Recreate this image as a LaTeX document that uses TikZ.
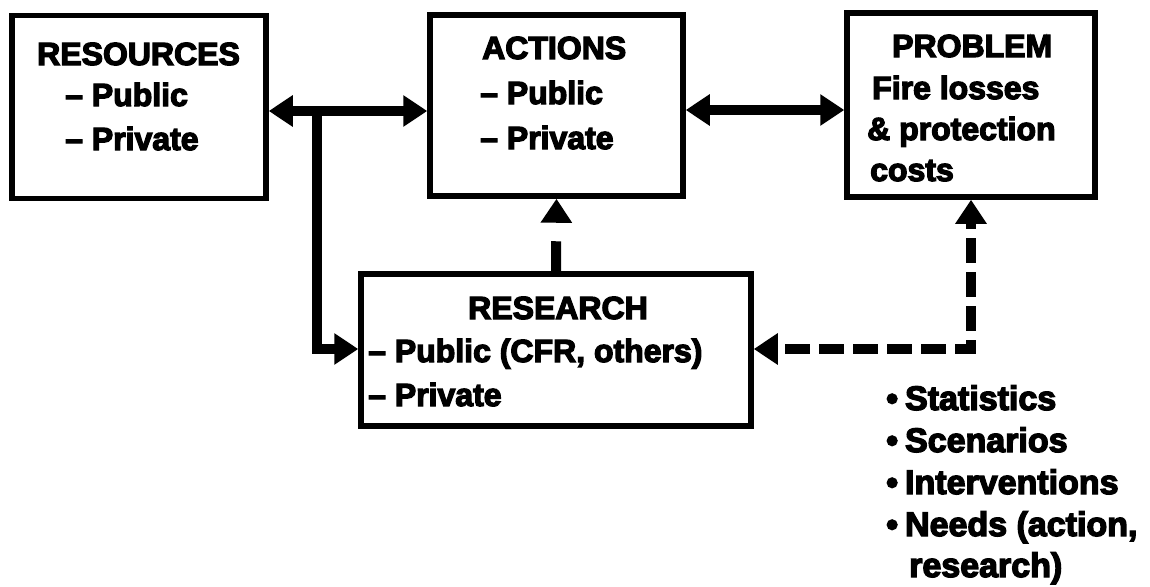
\documentclass[tikz,border=0pt]{standalone}
\usepackage{fontspec}
\setmainfont{Liberation Sans}[UprightFont={* Bold}, FakeBold=4]
\usetikzlibrary{arrows.meta}
\begin{document}
\begin{tikzpicture}[x=1pt,y=-1pt,
  >={Triangle[length=24pt,width=30pt]},
  box/.style={draw, line width=5.5pt, inner sep=0pt},
  lbl/.style={anchor=base west, inner sep=0pt, font=\fontsize{32}{38}\selectfont},
  blt/.style={anchor=base west, inner sep=0pt, font=\fontsize{34}{40}\selectfont},
  solidlink/.style={line width=10pt},
  dashlink/.style={line width=10pt, dash pattern=on 25pt off 9pt},
]
\useasboundingbox (0,0) rectangle (1150,586);

% boxes
\node[box, minimum width=254pt, minimum height=183pt] (res)  at (139,107)   {};
\node[box, minimum width=253pt, minimum height=181pt] (act)  at (556.5,105.5) {};
\node[box, minimum width=248pt, minimum height=184pt] (prob) at (971,105) {};
\node[box, minimum width=390pt, minimum height=152pt] (rsch) at (556,350) {};

% box texts
\node[lbl] (res1) at (37,65)  {RESOURCES};
\node[lbl] (res2) at (65,106) {\textendash\ Public};
\node[lbl] (res3) at (65,150) {\textendash\ Private};

\node[lbl] (act1) at (482,59)  {ACTIONS};
\node[lbl] (act2) at (480,104) {\textendash\ Public};
\node[lbl] (act3) at (480,149) {\textendash\ Private};

\node[lbl] (prob1) at (892,57)  {PROBLEM};
\node[lbl] (prob2) at (872,99)  {Fire losses};
\node[lbl] (prob3) at (867,140) {\& protection};
\node[lbl] (prob4) at (870,181) {costs};

\node[lbl, anchor=base] (rsch1) at (558,319) {RESEARCH};
\node[lbl] (rsch2) at (368,362) {\textendash\ Public (CFR, others)};
\node[lbl] (rsch3) at (368,406) {\textendash\ Private};

% bullet list
\node[blt] (bl1) at (886,410) {\textbullet\hspace{7pt}Statistics};
\node[blt] (bl2) at (886,452) {\textbullet\hspace{7pt}Scenarios};
\node[blt] (bl3) at (886,494) {\textbullet\hspace{7pt}Interventions};
\node[blt] (bl4) at (886,536) {\textbullet\hspace{7pt}Needs (action,};
\node[blt] (bl5) at (909,577) {research)};

% connectors
\coordinate (j) at (317,111);
\coordinate (k) at (317,349);
\coordinate (m) at (765,110);

\draw[solidlink, <->] (res.east |- j) -- (act.west |- j);
\draw[solidlink, ->] (j) -- (k) -- (rsch.west |- k);
\draw[solidlink, <->] (act.east |- m) -- (prob.west |- m);

\draw[line width=10pt, dash pattern=on 30pt off 20pt, ->] (rsch.north) -- (act.south);
\draw[dashlink, dash phase=25pt, <->] (rsch.east |- k) -| (prob.south);
\end{tikzpicture}
\end{document}
